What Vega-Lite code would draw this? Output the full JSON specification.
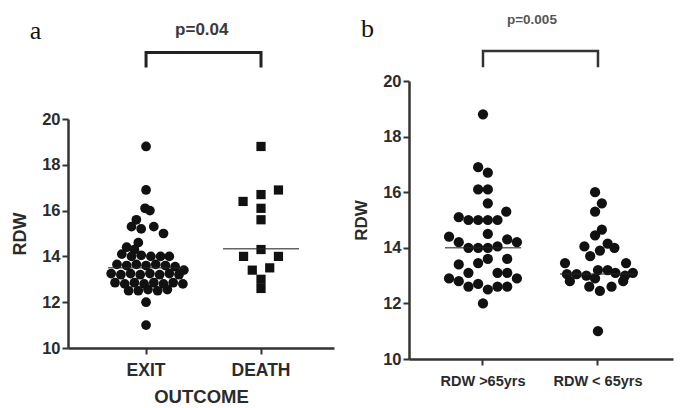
{
  "$schema": "https://vega.github.io/schema/vega-lite/v6.json",
  "background": "white",
  "padding": {"left": 11, "top": 3, "right": 5, "bottom": 0},
  "spacing": 18,
  "config": {"view": {"stroke": null}, "font": "Liberation Sans"},
  "datasets": {
    "a_exit": [
      {"group": "EXIT", "rdw": 18.8, "j": 0}, {"group": "EXIT", "rdw": 16.9, "j": 0},
      {"group": "EXIT", "rdw": 16.1, "j": -0.1}, {"group": "EXIT", "rdw": 16.0, "j": 0.4},
      {"group": "EXIT", "rdw": 15.6, "j": -1.0}, {"group": "EXIT", "rdw": 15.3, "j": -1.5},
      {"group": "EXIT", "rdw": 15.2, "j": -0.5}, {"group": "EXIT", "rdw": 15.3, "j": 0.8},
      {"group": "EXIT", "rdw": 15.0, "j": 1.8}, {"group": "EXIT", "rdw": 14.6, "j": -0.8},
      {"group": "EXIT", "rdw": 14.4, "j": -2.0}, {"group": "EXIT", "rdw": 14.3, "j": -1.2},
      {"group": "EXIT", "rdw": 14.1, "j": -2.5}, {"group": "EXIT", "rdw": 14.0, "j": -1.5},
      {"group": "EXIT", "rdw": 14.05, "j": -0.5}, {"group": "EXIT", "rdw": 14.0, "j": 0.5},
      {"group": "EXIT", "rdw": 14.0, "j": 1.5}, {"group": "EXIT", "rdw": 14.0, "j": 2.4},
      {"group": "EXIT", "rdw": 13.65, "j": -3.0}, {"group": "EXIT", "rdw": 13.6, "j": -2.0},
      {"group": "EXIT", "rdw": 13.65, "j": -1.0}, {"group": "EXIT", "rdw": 13.6, "j": 0.0},
      {"group": "EXIT", "rdw": 13.65, "j": 1.0}, {"group": "EXIT", "rdw": 13.6, "j": 2.0},
      {"group": "EXIT", "rdw": 13.55, "j": 3.0}, {"group": "EXIT", "rdw": 13.4, "j": 3.9},
      {"group": "EXIT", "rdw": 13.25, "j": -3.6}, {"group": "EXIT", "rdw": 13.2, "j": -2.6},
      {"group": "EXIT", "rdw": 13.25, "j": -1.6}, {"group": "EXIT", "rdw": 13.2, "j": -0.6},
      {"group": "EXIT", "rdw": 13.25, "j": 0.4}, {"group": "EXIT", "rdw": 13.2, "j": 1.4},
      {"group": "EXIT", "rdw": 13.25, "j": 2.4}, {"group": "EXIT", "rdw": 13.2, "j": 3.4},
      {"group": "EXIT", "rdw": 12.85, "j": -3.2}, {"group": "EXIT", "rdw": 12.8, "j": -2.2},
      {"group": "EXIT", "rdw": 12.85, "j": -1.2}, {"group": "EXIT", "rdw": 12.8, "j": -0.2},
      {"group": "EXIT", "rdw": 12.85, "j": 0.8}, {"group": "EXIT", "rdw": 12.8, "j": 1.8},
      {"group": "EXIT", "rdw": 12.85, "j": 2.8}, {"group": "EXIT", "rdw": 12.8, "j": 3.8},
      {"group": "EXIT", "rdw": 12.5, "j": -1.8}, {"group": "EXIT", "rdw": 12.5, "j": -0.8},
      {"group": "EXIT", "rdw": 12.55, "j": 0.2}, {"group": "EXIT", "rdw": 12.5, "j": 1.2},
      {"group": "EXIT", "rdw": 12.55, "j": 2.2}, {"group": "EXIT", "rdw": 12.0, "j": 0},
      {"group": "EXIT", "rdw": 11.0, "j": 0}
    ],
    "a_death": [
      {"group": "DEATH", "rdw": 18.8, "j": 0}, {"group": "DEATH", "rdw": 16.9, "j": 1.8},
      {"group": "DEATH", "rdw": 16.7, "j": 0}, {"group": "DEATH", "rdw": 16.4, "j": -1.85},
      {"group": "DEATH", "rdw": 16.1, "j": 0}, {"group": "DEATH", "rdw": 15.6, "j": 0},
      {"group": "DEATH", "rdw": 14.3, "j": 0}, {"group": "DEATH", "rdw": 14.0, "j": -1.8},
      {"group": "DEATH", "rdw": 14.0, "j": 1.8}, {"group": "DEATH", "rdw": 13.4, "j": -0.9},
      {"group": "DEATH", "rdw": 13.5, "j": 0.9}, {"group": "DEATH", "rdw": 13.0, "j": 0},
      {"group": "DEATH", "rdw": 12.6, "j": 0}
    ],
    "a_median": [{"group": "EXIT", "rdw": 13.5}, {"group": "DEATH", "rdw": 14.33}],
    "a_bracket": [
      {"group": "EXIT", "rdw": 22.31, "k": 1}, {"group": "EXIT", "rdw": 22.9, "k": 2},
      {"group": "DEATH", "rdw": 22.9, "k": 3}, {"group": "DEATH", "rdw": 22.31, "k": 4}
    ],
    "a_p": [{"group": "EXIT", "j": 5.75, "rdw": 23.886, "label": "p=0.04"}],
    "a_letter": [{"group": "EXIT", "j": -12.0, "rdw": 23.5, "label": "a"}],
    "a_top": [{"group": "EXIT", "rdw": 24.98}],
    "b_pts": [
      {"group": "RDW >65yrs", "rdw": 18.8, "j": 0}, {"group": "RDW >65yrs", "rdw": 16.9, "j": -0.5},
      {"group": "RDW >65yrs", "rdw": 16.7, "j": 0.5}, {"group": "RDW >65yrs", "rdw": 16.1, "j": -0.5},
      {"group": "RDW >65yrs", "rdw": 16.1, "j": 0.5}, {"group": "RDW >65yrs", "rdw": 15.6, "j": 0.5},
      {"group": "RDW >65yrs", "rdw": 15.3, "j": 2.4}, {"group": "RDW >65yrs", "rdw": 15.1, "j": -2.5},
      {"group": "RDW >65yrs", "rdw": 15.0, "j": -1.5}, {"group": "RDW >65yrs", "rdw": 15.0, "j": -0.5},
      {"group": "RDW >65yrs", "rdw": 15.0, "j": 0.5}, {"group": "RDW >65yrs", "rdw": 15.0, "j": 1.5},
      {"group": "RDW >65yrs", "rdw": 14.5, "j": 0.5}, {"group": "RDW >65yrs", "rdw": 14.4, "j": -3.5},
      {"group": "RDW >65yrs", "rdw": 14.3, "j": 2.5}, {"group": "RDW >65yrs", "rdw": 14.2, "j": 3.5},
      {"group": "RDW >65yrs", "rdw": 14.2, "j": -2.5}, {"group": "RDW >65yrs", "rdw": 14.0, "j": -1.5},
      {"group": "RDW >65yrs", "rdw": 14.0, "j": -0.5}, {"group": "RDW >65yrs", "rdw": 14.0, "j": 0.5},
      {"group": "RDW >65yrs", "rdw": 14.05, "j": 1.5}, {"group": "RDW >65yrs", "rdw": 13.6, "j": 0.5},
      {"group": "RDW >65yrs", "rdw": 13.45, "j": -0.5}, {"group": "RDW >65yrs", "rdw": 13.4, "j": -2.5},
      {"group": "RDW >65yrs", "rdw": 13.6, "j": 2.5}, {"group": "RDW >65yrs", "rdw": 13.1, "j": -1.5},
      {"group": "RDW >65yrs", "rdw": 13.1, "j": 1.5}, {"group": "RDW >65yrs", "rdw": 13.1, "j": 2.5},
      {"group": "RDW >65yrs", "rdw": 12.9, "j": -3.5}, {"group": "RDW >65yrs", "rdw": 12.8, "j": -2.5},
      {"group": "RDW >65yrs", "rdw": 12.9, "j": 3.5}, {"group": "RDW >65yrs", "rdw": 12.6, "j": -1.5},
      {"group": "RDW >65yrs", "rdw": 12.7, "j": -0.5}, {"group": "RDW >65yrs", "rdw": 12.5, "j": 0.5},
      {"group": "RDW >65yrs", "rdw": 12.6, "j": 1.5}, {"group": "RDW >65yrs", "rdw": 12.6, "j": 2.5},
      {"group": "RDW >65yrs", "rdw": 12.0, "j": 0},
      {"group": "RDW < 65yrs", "rdw": 16.0, "j": -0.3}, {"group": "RDW < 65yrs", "rdw": 15.6, "j": 0.4},
      {"group": "RDW < 65yrs", "rdw": 15.3, "j": -0.3}, {"group": "RDW < 65yrs", "rdw": 14.65, "j": 0.4},
      {"group": "RDW < 65yrs", "rdw": 14.45, "j": -0.3}, {"group": "RDW < 65yrs", "rdw": 14.05, "j": -1.4},
      {"group": "RDW < 65yrs", "rdw": 14.15, "j": 1.0}, {"group": "RDW < 65yrs", "rdw": 14.0, "j": 1.7},
      {"group": "RDW < 65yrs", "rdw": 13.9, "j": 0.2}, {"group": "RDW < 65yrs", "rdw": 13.7, "j": -0.8},
      {"group": "RDW < 65yrs", "rdw": 13.45, "j": -3.4}, {"group": "RDW < 65yrs", "rdw": 13.45, "j": 2.9},
      {"group": "RDW < 65yrs", "rdw": 13.2, "j": 0.0}, {"group": "RDW < 65yrs", "rdw": 13.05, "j": -3.2},
      {"group": "RDW < 65yrs", "rdw": 12.8, "j": -2.9}, {"group": "RDW < 65yrs", "rdw": 13.05, "j": -2.2},
      {"group": "RDW < 65yrs", "rdw": 13.0, "j": -1.2}, {"group": "RDW < 65yrs", "rdw": 12.6, "j": -0.9},
      {"group": "RDW < 65yrs", "rdw": 12.45, "j": 0.2}, {"group": "RDW < 65yrs", "rdw": 13.2, "j": 1.0},
      {"group": "RDW < 65yrs", "rdw": 12.6, "j": 1.4}, {"group": "RDW < 65yrs", "rdw": 13.1, "j": 1.8},
      {"group": "RDW < 65yrs", "rdw": 12.8, "j": 2.6}, {"group": "RDW < 65yrs", "rdw": 13.1, "j": 3.6},
      {"group": "RDW < 65yrs", "rdw": 13.0, "j": 2.8}, {"group": "RDW < 65yrs", "rdw": 12.9, "j": -0.3},
      {"group": "RDW < 65yrs", "rdw": 11.0, "j": 0}
    ],
    "b_median": [{"group": "RDW >65yrs", "rdw": 14.0}, {"group": "RDW < 65yrs", "rdw": 13.06}],
    "b_bracket": [
      {"group": "RDW >65yrs", "rdw": 20.54, "k": 1}, {"group": "RDW >65yrs", "rdw": 21.08, "k": 2},
      {"group": "RDW < 65yrs", "rdw": 21.08, "k": 3}, {"group": "RDW < 65yrs", "rdw": 20.54, "k": 4}
    ],
    "b_p": [{"group": "RDW >65yrs", "j": 5.05, "rdw": 22.194, "label": "p=0.005"}],
    "b_letter": [{"group": "RDW >65yrs", "j": -12.58, "rdw": 21.58, "label": "b"}],
    "b_top": [{"group": "RDW >65yrs", "rdw": 22.734}]
  },
  "hconcat": [
    {
      "width": 266,
      "height": 267,
      "layer": [
        {
          "data": {"name": "a_exit"},
          "mark": {"type": "circle", "size": 95, "color": "#111", "opacity": 1},
          "encoding": {
            "x": {
              "field": "group", "type": "nominal", "sort": null,
              "scale": {"domain": ["EXIT", "DEATH"], "paddingInner": 0, "paddingOuter": 0.157, "align": 0.57},
              "axis": {
                "title": "OUTCOME", "labelAngle": 0, "tickSize": 6, "tickWidth": 2, "tickColor": "#333",
                "domainWidth": 2.5, "domainColor": "#333", "labelFont": "Liberation Sans", "labelFontSize": 17.5,
                "labelFontWeight": "bold", "labelColor": "#2b2b2b", "labelPadding": 7,
                "titleFont": "Liberation Sans", "titleFontSize": 18.5, "titleFontWeight": "bold",
                "titleColor": "#2b2b2b", "titlePadding": 9
              }
            },
            "xOffset": {"field": "j", "type": "quantitative", "scale": {"domain": [-5.75, 5.75]}},
            "y": {
              "field": "rdw", "type": "quantitative",
              "scale": {"domain": [10, 20], "range": [267, 38], "nice": false, "zero": false},
              "axis": {
                "title": "RDW", "values": [10, 12, 14, 16, 18, 20], "grid": false, "tickSize": 6, "tickWidth": 2,
                "tickColor": "#333", "domainWidth": 2.5, "domainColor": "#333", "labelFont": "Liberation Sans",
                "labelFontSize": 16.5, "labelFontWeight": "bold", "labelColor": "#2b2b2b", "labelPadding": 2,
                "titleFont": "Liberation Sans", "titleFontSize": 18, "titleFontWeight": "bold",
                "titleColor": "#2b2b2b", "titlePadding": 12
              }
            }
          }
        },
        {
          "data": {"name": "a_death"},
          "mark": {"type": "square", "size": 85, "color": "#111", "opacity": 1},
          "encoding": {
            "x": {"field": "group", "type": "nominal"},
            "xOffset": {"field": "j", "type": "quantitative"},
            "y": {"field": "rdw", "type": "quantitative"}
          }
        },
        {
          "data": {"name": "a_median"},
          "mark": {"type": "tick", "size": 76, "thickness": 1.5, "color": "#222"},
          "encoding": {
            "x": {"field": "group", "type": "nominal"},
            "y": {"field": "rdw", "type": "quantitative"}
          }
        },
        {
          "data": {"name": "a_bracket"},
          "mark": {"type": "line", "strokeWidth": 3, "color": "#222", "strokeJoin": "miter", "strokeCap": "square"},
          "encoding": {
            "x": {"field": "group", "type": "nominal"},
            "y": {"field": "rdw", "type": "quantitative"},
            "order": {"field": "k", "type": "quantitative"}
          }
        },
        {
          "data": {"name": "a_p"},
          "mark": {"type": "text", "font": "Liberation Sans", "fontSize": 17, "fontWeight": "bold", "color": "#3a3a3a", "align": "center", "baseline": "middle"},
          "encoding": {
            "x": {"field": "group", "type": "nominal"},
            "xOffset": {"field": "j", "type": "quantitative"},
            "y": {"field": "rdw", "type": "quantitative"},
            "text": {"field": "label"}
          }
        },
        {
          "data": {"name": "a_letter"},
          "mark": {"type": "text", "font": "Liberation Serif", "fontSize": 26, "color": "#111", "align": "left", "baseline": "alphabetic"},
          "encoding": {
            "x": {"field": "group", "type": "nominal"},
            "xOffset": {"field": "j", "type": "quantitative"},
            "y": {"field": "rdw", "type": "quantitative"},
            "text": {"field": "label"}
          }
        },
        {
          "data": {"name": "a_top"},
          "mark": {"type": "square", "size": 4, "color": "white", "opacity": 1},
          "encoding": {
            "x": {"field": "group", "type": "nominal"},
            "y": {"field": "rdw", "type": "quantitative"}
          }
        }
      ]
    },
    {
      "width": 264,
      "height": 278,
      "layer": [
        {
          "data": {"name": "b_pts"},
          "mark": {"type": "circle", "size": 105, "color": "#111", "opacity": 1},
          "encoding": {
            "x": {
              "field": "group", "type": "nominal", "sort": null,
              "scale": {"domain": ["RDW >65yrs", "RDW < 65yrs"], "paddingInner": 0, "paddingOuter": 0.148, "align": 0.485},
              "axis": {
                "title": null, "labelAngle": 0, "tickSize": 6, "tickWidth": 2, "tickColor": "#333",
                "domainWidth": 2.5, "domainColor": "#333", "labelFont": "Liberation Sans", "labelFontSize": 14.5,
                "labelFontWeight": "bold", "labelColor": "#2b2b2b", "labelPadding": 9
              }
            },
            "xOffset": {"field": "j", "type": "quantitative", "scale": {"domain": [-5.93, 5.93]}},
            "y": {
              "field": "rdw", "type": "quantitative",
              "scale": {"domain": [10, 20], "nice": false, "zero": false},
              "axis": {
                "title": "RDW", "values": [10, 12, 14, 16, 18, 20], "grid": false, "tickSize": 6, "tickWidth": 2,
                "tickColor": "#333", "domainWidth": 2.5, "domainColor": "#333", "labelFont": "Liberation Sans",
                "labelFontSize": 16.5, "labelFontWeight": "bold", "labelColor": "#2b2b2b", "labelPadding": 2,
                "titleFont": "Liberation Sans", "titleFontSize": 17, "titleFontWeight": "bold",
                "titleColor": "#2b2b2b", "titlePadding": 12
              }
            }
          }
        },
        {
          "data": {"name": "b_median"},
          "mark": {"type": "tick", "size": 76, "thickness": 1.5, "color": "#222"},
          "encoding": {
            "x": {"field": "group", "type": "nominal"},
            "y": {"field": "rdw", "type": "quantitative"}
          }
        },
        {
          "data": {"name": "b_bracket"},
          "mark": {"type": "line", "strokeWidth": 2.5, "color": "#333", "strokeJoin": "miter", "strokeCap": "square"},
          "encoding": {
            "x": {"field": "group", "type": "nominal"},
            "y": {"field": "rdw", "type": "quantitative"},
            "order": {"field": "k", "type": "quantitative"}
          }
        },
        {
          "data": {"name": "b_p"},
          "mark": {"type": "text", "font": "Liberation Sans", "fontSize": 13.5, "fontWeight": "bold", "color": "#555", "align": "center", "baseline": "middle"},
          "encoding": {
            "x": {"field": "group", "type": "nominal"},
            "xOffset": {"field": "j", "type": "quantitative"},
            "y": {"field": "rdw", "type": "quantitative"},
            "text": {"field": "label"}
          }
        },
        {
          "data": {"name": "b_letter"},
          "mark": {"type": "text", "font": "Liberation Serif", "fontSize": 26, "color": "#111", "align": "left", "baseline": "alphabetic"},
          "encoding": {
            "x": {"field": "group", "type": "nominal"},
            "xOffset": {"field": "j", "type": "quantitative"},
            "y": {"field": "rdw", "type": "quantitative"},
            "text": {"field": "label"}
          }
        },
        {
          "data": {"name": "b_top"},
          "mark": {"type": "square", "size": 4, "color": "white", "opacity": 1},
          "encoding": {
            "x": {"field": "group", "type": "nominal"},
            "y": {"field": "rdw", "type": "quantitative"}
          }
        }
      ]
    }
  ]
}
